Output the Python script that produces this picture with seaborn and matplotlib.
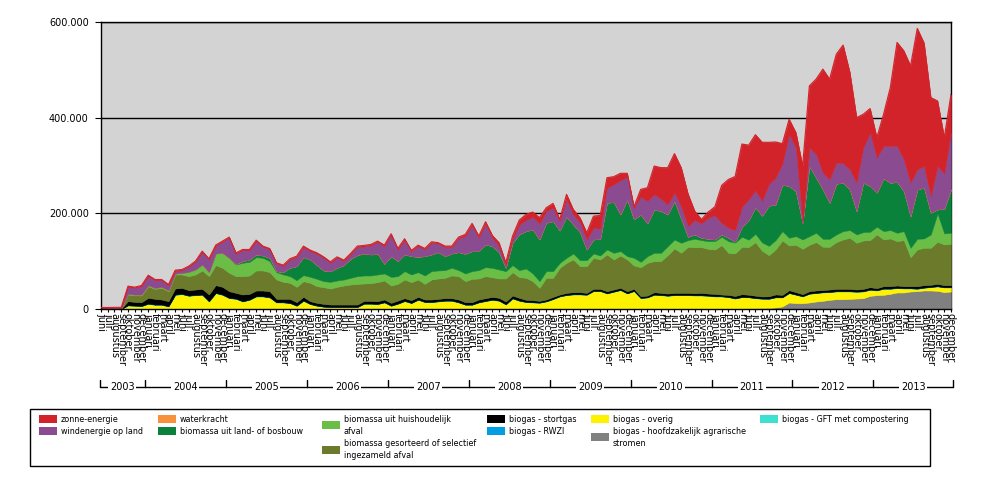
import numpy as np
import pandas as pd
import matplotlib
matplotlib.use("Agg")
import matplotlib.pyplot as plt
import matplotlib.transforms as mtransforms
from matplotlib.patches import Rectangle
from matplotlib.lines import Line2D
import seaborn as sns

sns.set_theme(style="white")
plt.rcParams['font.family'] = ['DejaVu Sans']

# ---------------- data (values in thousands, MWh) ----------------
maandnamen = ["januari", "februari", "maart", "april", "mei", "juni", "juli",
              "augustus", "september", "oktober", "november", "december"]
jaren = ["2003", "2004", "2005", "2006", "2007", "2008", "2009", "2010", "2011", "2012", "2013"]
maanden = maandnamen[5:] + maandnamen * 10          # juni 2003 .. december 2013
ytick_waarden = [0, 200000, 400000, 600000]
ytick_labels = ["0", "200.000", "400.000", "600.000"]

zonne_energie = [
    0.7, 0.7, 0.7, 0.7, 1.4, 1.4, 1.4,
    1.4, 1.4, 1.4, 1.4, 1.4, 1.4, 1.4, 1.4, 1.4, 1.4, 1.4, 1.4,
    1.4, 1.4, 1.4, 1.4, 2.1, 1.4, 1.4, 1.4, 2.1, 1.4, 2.1, 2.1,
    2.1, 2.1, 2.1, 2.1, 2.1, 2.1, 2.1, 2.1, 2.1, 2.1, 2.1, 2.1,
    2.1, 2.1, 2.1, 2.1, 2.1, 2.1, 2.1, 2.1, 2.1, 2.1, 2.8, 3.5,
    3.5, 3.5, 4.2, 4.9, 7.0, 4.9, 7.0, 9.1, 11.9, 9.8, 11.9, 7.0,
    9.1, 3.5, 10.5, 10.5, 9.1, 14.0, 24.4, 27.9, 20.9, 16.1, 14.7, 7.0,
    2.1, 15.4, 27.9, 59.3, 64.9, 76.8, 81.7, 80.3, 67.7, 18.8, 8.4, 11.9,
    18.1, 78.2, 101.2, 111.7, 131.2, 113.1, 116.6, 122.2, 87.3, 74.7, 41.9, 31.4,
    31.4, 117.3, 129.1, 157.1, 216.4, 209.4, 226.9, 247.1, 202.4, 136.1, 69.8, 50.3,
    41.9, 66.3, 122.2, 216.4, 226.9, 244.3, 294.6, 256.9, 205.9, 136.1, 74.7, 80.3]

windenergie = [
    1.0, 1.0, 1.2, 1.2, 14.7, 14.0, 17.5,
    19.5, 16.1, 14.0, 10.5, 5.6, 5.6, 10.5, 16.1, 26.5, 26.5, 16.1, 23.0,
    41.9, 21.6, 23.0, 19.5, 27.9, 18.1, 18.1, 16.1, 12.6, 17.5, 18.8, 20.9,
    17.5, 23.7, 26.5, 17.5, 20.9, 8.4, 9.1, 16.8, 14.7, 18.8, 24.4, 37.0,
    44.7, 24.4, 30.7, 9.8, 22.3, 14.0, 24.4, 17.5, 18.8, 13.3, 28.6, 37.0,
    54.4, 27.9, 43.3, 17.5, 12.6, 5.6, 7.0, 20.9, 23.0, 26.5, 33.5, 24.4,
    27.9, 19.5, 36.3, 20.9, 20.9, 20.9, 24.4, 20.9, 31.4, 37.0, 71.2, 47.5,
    24.4, 37.0, 46.8, 31.4, 25.8, 20.9, 17.5, 26.5, 22.3, 30.0, 30.0, 44.0,
    50.3, 24.4, 20.9, 24.4, 41.9, 44.0, 34.9, 31.4, 45.4, 55.8, 44.0, 108.2,
    90.7, 1.4, 38.4, 48.9, 34.9, 48.9, 44.0, 40.5, 41.9, 59.3, 73.3, 111.7,
    73.3, 67.7, 76.8, 75.4, 66.3, 69.8, 41.9, 45.4, 34.9, 90.7, 74.0, 118.7]

waterkracht = [
    0, 0, 0, 0, 0, 0, 0,
    0, 0, 0, 0, 0, 0, 0, 0, 0, 0, 0, 0,
    0, 0, 0, 0, 0, 0, 0, 0, 0, 0, 0, 0,
    0, 0, 0, 0, 0, 0, 0, 0, 0, 0, 0, 0,
    0, 0, 0, 0, 0, 0, 0, 0, 0, 0, 0, 0,
    0, 0, 0, 0, 0, 0, 0, 0, 0, 0, 0, 0,
    0, 0, 0, 0, 0, 0, 0, 0, 0, 0, 0, 0,
    0, 0, 0, 0, 0, 0, 0, 0, 0, 0, 0, 0,
    0, 0, 0, 0, 0, 0, 0, 0, 0, 0, 0, 0,
    0, 0, 0, 0, 0, 0, 0, 0, 0, 0, 0, 0,
    0, 0, 0, 0, 0, 0, 0, 0, 0, 0, 0, 0]

biomassa_land_bos = [
    0, 0, 0, 0, 0, 0, 0,
    0, 0, 0, 0, 0, 0, 0, 0, 0, 0, 0, 0,
    0, 1.4, 3.5, 4.9, 5.6, 4.9, 7.0, 2.1, 4.9, 17.5, 29.3, 37.7,
    36.3, 28.6, 22.3, 22.3, 26.5, 30.0, 39.8, 44.0, 46.1, 44.0, 43.3, 20.2,
    43.3, 31.4, 34.9, 38.4, 32.1, 40.5, 34.9, 38.4, 29.3, 30.0, 37.7, 41.2,
    41.9, 39.8, 47.5, 45.4, 36.3, 7.0, 46.8, 74.7, 78.2, 92.1, 87.3, 101.2,
    104.7, 67.7, 85.9, 60.7, 58.6, 22.3, 29.3, 34.9, 97.7, 106.1, 76.8, 118.7,
    80.3, 99.1, 68.4, 90.7, 87.3, 66.3, 80.3, 50.3, 7.0, 9.1, 4.9, 4.9,
    3.5, 4.9, 7.0, 2.1, 20.9, 40.5, 55.8, 55.8, 83.8, 74.7, 97.0, 108.2,
    94.2, 34.9, 146.6, 115.2, 103.3, 75.4, 106.1, 101.2, 85.2, 48.9, 103.3, 95.6,
    71.2, 110.3, 99.1, 106.1, 83.8, 66.3, 103.3, 106.1, 45.4, 8.4, 51.7, 90.7]

biomassa_huishoudelijk = [
    0, 0, 0, 0, 1.4, 1.4, 2.1,
    2.1, 2.1, 2.1, 2.1, 2.1, 3.5, 9.1, 10.5, 12.6, 8.4, 24.4, 31.4,
    31.4, 24.4, 27.9, 28.6, 27.9, 26.5, 23.0, 15.4, 15.4, 14.0, 14.0, 12.6,
    12.6, 15.4, 12.6, 14.0, 13.3, 12.6, 14.0, 16.1, 16.8, 16.1, 16.1, 14.7,
    18.1, 16.1, 17.5, 16.1, 15.4, 17.5, 17.5, 16.8, 16.1, 16.1, 12.6, 16.1,
    16.1, 17.5, 18.8, 19.5, 18.8, 15.4, 14.7, 14.7, 19.5, 16.1, 14.0, 14.0,
    14.0, 10.5, 10.5, 12.6, 12.6, 12.6, 9.1, 8.4, 10.5, 14.0, 9.1, 7.0,
    16.1, 11.2, 14.0, 17.5, 17.5, 18.8, 18.8, 20.9, 14.0, 17.5, 14.7, 16.1,
    17.5, 17.5, 24.4, 22.3, 20.9, 15.4, 17.5, 17.5, 19.5, 19.5, 19.5, 16.1,
    18.1, 19.5, 18.1, 19.5, 16.8, 16.8, 16.1, 17.5, 16.1, 17.5, 17.5, 17.5,
    16.1, 17.5, 17.5, 17.5, 18.8, 19.5, 22.3, 19.5, 27.9, 59.3, 23.0, 23.0]

biomassa_gesorteerd = [
    0.5, 0.5, 0.5, 0.6, 14.0, 14.0, 14.0,
    24.4, 20.9, 24.4, 20.9, 29.3, 27.9, 29.3, 31.4, 38.4, 38.4, 41.9, 39.8,
    38.4, 34.9, 38.4, 38.4, 41.9, 41.9, 39.8, 40.5, 35.6, 33.5, 32.1, 32.8,
    38.4, 34.9, 34.9, 33.5, 37.0, 39.8, 41.9, 43.3, 36.3, 37.0, 39.8, 39.8,
    36.3, 34.9, 39.1, 37.7, 36.3, 32.8, 41.9, 42.6, 42.6, 47.5, 48.9, 44.0,
    48.9, 44.0, 46.1, 41.2, 40.5, 48.2, 48.9, 43.3, 46.1, 39.8, 27.2, 45.4,
    39.8, 55.8, 62.8, 68.4, 54.4, 55.8, 64.9, 61.4, 76.8, 62.8, 67.7, 66.3,
    48.9, 60.7, 68.4, 64.9, 66.3, 80.3, 92.8, 83.8, 96.3, 96.3, 95.6, 93.5,
    92.8, 103.3, 87.9, 89.3, 99.1, 99.8, 111.7, 95.6, 85.9, 94.2, 113.8, 93.5,
    99.1, 94.9, 97.0, 101.2, 90.7, 89.3, 97.7, 103.3, 106.8, 97.7, 101.2, 98.4,
    112.4, 97.7, 99.8, 92.8, 96.3, 60.7, 76.8, 78.2, 77.5, 87.9, 85.2, 86.6]

biogas_stortgas = [
    1.0, 1.0, 1.0, 1.0, 8.4, 7.7, 7.7,
    11.9, 11.9, 10.5, 10.5, 12.6, 12.6, 11.2, 11.2, 11.9, 14.0, 16.1, 16.1,
    14.0, 11.9, 14.0, 11.9, 11.9, 11.9, 12.6, 7.0, 7.0, 8.4, 7.0, 7.7,
    5.6, 5.6, 5.6, 4.9, 4.9, 4.9, 4.9, 4.9, 5.6, 5.6, 5.6, 5.6,
    5.6, 6.3, 5.6, 5.6, 5.6, 4.9, 4.9, 4.9, 4.9, 4.9, 5.6, 4.9,
    4.9, 5.6, 5.6, 5.6, 5.6, 5.6, 5.6, 5.6, 4.2, 4.2, 3.5, 3.5,
    4.2, 3.5, 4.2, 4.2, 4.2, 3.5, 4.2, 4.2, 4.2, 4.2, 4.2, 4.2,
    4.2, 3.5, 3.5, 4.9, 4.2, 4.2, 4.2, 4.2, 4.2, 4.2, 4.9, 4.2,
    4.9, 3.5, 4.2, 4.9, 5.6, 4.9, 4.9, 4.2, 4.9, 5.6, 4.9, 5.6,
    4.9, 4.2, 4.9, 4.9, 4.2, 4.9, 4.9, 4.9, 4.9, 4.2, 4.9, 4.9,
    4.2, 4.9, 4.9, 4.9, 4.2, 4.2, 4.9, 4.9, 4.2, 4.9, 4.2, 4.2]

biogas_rwzi = [
    0, 0, 0, 0, 0.6, 0.6, 0.6,
    0.6, 0.6, 0.6, 0.6, 0.6, 0.6, 0.6, 0.6, 0.6, 0.6, 0.6, 0.6,
    0.6, 0.6, 0.6, 0.6, 0.6, 0.6, 0.6, 0.6, 0.6, 0.6, 0.6, 0.6,
    0.6, 0.6, 0.6, 0.6, 0.6, 0.6, 0.6, 0.6, 0.6, 0.6, 0.6, 0.6,
    0.6, 0.6, 0.6, 0.6, 0.6, 0.6, 0.6, 0.6, 0.6, 0.6, 0.6, 0.6,
    0.6, 0.6, 0.6, 0.6, 0.6, 0.6, 0.6, 0.6, 0.6, 0.6, 0.6, 0.6,
    0.6, 0.6, 0.6, 0.6, 0.6, 0.6, 0.6, 0.6, 0.6, 0.6, 0.6, 0.6,
    0.6, 0.6, 0.6, 0.6, 0.6, 0.6, 0.6, 0.6, 0.6, 0.6, 0.6, 0.6,
    0.6, 0.6, 0.6, 0.6, 0.6, 0.6, 0.6, 0.6, 0.6, 0.6, 0.6, 0.6,
    0.6, 0.6, 0.6, 0.6, 0.6, 0.6, 0.6, 0.6, 0.6, 0.6, 0.6, 0.6,
    0.6, 0.6, 0.6, 0.6, 0.6, 0.6, 0.6, 0.6, 0.6, 0.6, 0.6, 0.6]

biogas_overig = [
    0, 0, 0, 0, 7.0, 6.3, 5.6,
    10.5, 8.4, 8.4, 4.9, 29.3, 30.7, 27.2, 28.6, 29.3, 15.4, 32.8, 29.3,
    22.3, 20.9, 15.4, 18.8, 25.8, 25.8, 23.7, 13.3, 13.3, 11.9, 6.3, 16.8,
    9.8, 6.3, 4.2, 3.5, 3.5, 3.5, 3.5, 3.5, 10.5, 10.5, 9.8, 13.3,
    6.3, 10.5, 16.1, 11.9, 18.8, 14.0, 14.0, 15.4, 16.8, 16.8, 13.3, 8.4,
    8.4, 13.3, 16.1, 18.8, 16.8, 9.1, 21.6, 16.8, 14.0, 13.3, 12.6, 15.4,
    20.2, 25.8, 28.6, 30.0, 30.0, 29.3, 37.0, 37.0, 32.1, 35.6, 39.1, 32.1,
    37.0, 22.3, 23.7, 29.3, 28.6, 27.2, 28.6, 28.6, 28.6, 27.9, 27.9, 27.2,
    25.8, 25.8, 24.4, 20.9, 23.7, 23.0, 20.9, 19.5, 18.8, 20.9, 18.8, 19.5,
    17.5, 14.0, 18.1, 17.5, 17.5, 16.1, 16.1, 16.1, 15.4, 14.0, 14.0, 12.6,
    9.8, 12.6, 10.5, 9.1, 8.4, 6.3, 4.9, 5.6, 7.0, 9.1, 9.8, 8.4]

biogas_agrarisch = [
    0, 0, 0, 0, 0, 0, 0,
    0, 0, 0, 0, 0, 0, 0, 0, 0, 0, 0, 0,
    0, 0, 0, 0, 0, 0, 0, 0, 0, 0, 0, 0,
    0, 0, 0, 0, 0, 0, 0, 0, 0, 0, 0, 0,
    0, 0, 0, 0, 0, 0, 0, 0, 0, 0, 0, 0,
    0, 0, 0, 0, 0, 0, 0, 0, 0, 0, 0, 0,
    0, 0, 0, 0, 0, 0, 0, 0, 0, 0, 0, 0,
    0, 0, 0, 0, 0, 0, 0, 0, 0, 0, 0, 0,
    0, 0, 0, 0.5, 0.7, 1.0, 1.2, 1.5, 2.0, 3.0, 5.0, 13.3,
    11.9, 11.9, 13.3, 15.4, 16.8, 18.8, 20.2, 20.2, 20.9, 21.6, 22.3, 27.2,
    28.6, 29.3, 31.4, 34.2, 34.2, 36.3, 37.0, 38.4, 38.4, 37.7, 34.9, 36.3]

biogas_gft = [
    0, 0, 0, 0, 0.3, 0.3, 0.3,
    0.3, 0.3, 0.3, 0.3, 0.3, 0.3, 0.3, 0.3, 0.3, 0.3, 0.3, 0.3,
    0.3, 0.3, 0.3, 0.3, 0.3, 0.3, 0.3, 0.3, 0.3, 0.3, 0.3, 0.3,
    0.3, 0.3, 0.3, 0.3, 0.3, 0.3, 0.3, 0.3, 0.3, 0.3, 0.3, 0.3,
    0.3, 0.3, 0.3, 0.3, 0.3, 0.3, 0.3, 0.3, 0.3, 0.3, 0.3, 0.3,
    0.3, 0.3, 0.3, 0.3, 0.3, 0.3, 0.3, 0.3, 0.3, 0.3, 0.3, 0.3,
    0.3, 0.3, 0.3, 0.3, 0.3, 0.3, 0.3, 0.3, 0.3, 0.3, 0.3, 0.3,
    0.3, 0.3, 0.3, 0.3, 0.3, 0.3, 0.3, 0.3, 0.3, 0.3, 0.3, 0.3,
    0.3, 0.3, 0.3, 0.3, 0.3, 0.3, 0.3, 0.3, 0.3, 0.3, 0.3, 0.3,
    0.3, 0.3, 0.3, 0.3, 0.3, 0.3, 0.3, 0.3, 0.3, 0.3, 0.3, 0.3,
    0.3, 0.3, 0.3, 0.3, 0.3, 0.3, 0.3, 0.3, 0.3, 0.3, 0.3, 0.3]

EENHEID = 1000  # values above are in thousands

# legend order (as in the reference) with colours
reeksen = [
    ("zonne-energie", zonne_energie, "#D2232A"),
    ("windenergie op land", windenergie, "#8A4B90"),
    ("waterkracht", waterkracht, "#F7923A"),
    ("biomassa uit land- of bosbouw", biomassa_land_bos, "#0B823C"),
    ("biomassa uit huishoudelijk\nafval", biomassa_huishoudelijk, "#6ABD45"),
    ("biomassa gesorteerd of selectief\ningezameld afval", biomassa_gesorteerd, "#6B7B2B"),
    ("biogas - stortgas", biogas_stortgas, "#000000"),
    ("biogas - RWZI", biogas_rwzi, "#009FE3"),
    ("biogas - overig", biogas_overig, "#FFF200"),
    ("biogas - hoofdzakelijk agrarische\nstromen", biogas_agrarisch, "#808080"),
    ("biogas - GFT met compostering", biogas_gft, "#40E0D0"),
]

df = pd.DataFrame({naam: np.array(v, dtype=float) * EENHEID for naam, v, c in reeksen})
df["maand"] = np.arange(len(maanden))

# ---------------- figure ----------------
W, H = 986, 482
fig = plt.figure(figsize=(W / 100, H / 100), dpi=100)
fig.patch.set_facecolor("white")
PL, PR, PT, PB = 101, 951, 22, 309
ax = fig.add_axes([PL / W, 1 - PB / H, (PR - PL) / W, (PB - PT) / H])
ax.set_facecolor("#D3D3D3")

stapel = list(reversed(reeksen))          # bottom of stack = last legend entry
polys = ax.stackplot(df["maand"], *[df[n] for n, v, c in stapel],
                     colors=[c for n, v, c in stapel], zorder=2)
for p, (n, v, c) in zip(polys, stapel):
    p.set_edgecolor(c)
    p.set_linewidth(0.35)

totaal = df[[n for n, v, c in reeksen]].sum(axis=1)
sns.lineplot(x=df["maand"], y=totaal, color="#D2232A", linewidth=0.8, ax=ax,
             legend=False, zorder=3)
ax.set_xlabel("")
ax.set_ylabel("")

ax.set_xlim(0, len(maanden) - 1)
ax.set_ylim(0, 600000)
ax.set_yticks(ytick_waarden)
ax.set_yticklabels(ytick_labels)
ax.yaxis.grid(True, color="black", linewidth=1.0)
ax.xaxis.grid(False)
ax.set_axisbelow(True)

ax.set_xticks(np.arange(len(maanden)))
ax.set_xticklabels(maanden, rotation=270, fontsize=7, va="top", ha="center")
ax.tick_params(axis="x", direction="out", length=2.2, width=0.8, pad=1,
               colors="black", bottom=True)
ax.tick_params(axis="y", direction="out", length=4.3, width=0.8, pad=4.5,
               colors="black", labelsize=7, left=True)

for s in ["left", "bottom", "top", "right"]:
    ax.spines[s].set_color("black")
    ax.spines[s].set_linewidth(1.0)
ax.spines["right"].set_zorder(0.6)
ax.spines["top"].set_zorder(0.6)

# ---------------- year brackets ----------------
tr = mtransforms.blended_transform_factory(ax.transData, fig.transFigure)
jan_idx = [i for i, m in enumerate(maanden) if m == "januari"]
randen = [-0.15] + [i - 0.5 for i in jan_idx] + [len(maanden) - 1 + 0.3]
y_lijn = 1 - 387 / H
y_top = 1 - 379.5 / H
for r in randen:
    fig.add_artist(Line2D([r, r], [y_top, y_lijn], transform=tr, color="black",
                          linewidth=1.0, clip_on=False))
for j, jaar in enumerate(jaren):
    a, b = randen[j], randen[j + 1]
    fig.add_artist(Line2D([a, b], [y_lijn, y_lijn], transform=tr, color="black",
                          linewidth=1.0, clip_on=False))
    fig.text((a + b) / 2, y_lijn, jaar, transform=tr, ha="center", va="center",
             fontsize=7, color="black",
             bbox=dict(facecolor="white", edgecolor="none", pad=1.2))

# ---------------- legend (manual layout) ----------------
def fx(px):
    return px / W


def fy(py):
    return 1 - py / H


fig.add_artist(Rectangle((fx(30), fy(466)), (930 - 30) / W, (466 - 409) / H,
                         transform=fig.transFigure, fill=False,
                         edgecolor="black", linewidth=1.0))

kolommen = [(39, [0, 1]), (158, [2, 3]), (322, [4, 5]),
            (487, [6, 7]), (591, [8, 9]), (760, [10])]
regel = 12.2
for xs, idxs in kolommen:
    ytop = 419
    for k in idxs:
        naam, v, kleur = reeksen[k]
        regels = naam.split("\n")
        ymid = ytop + (len(regels) - 1) * regel / 2
        fig.add_artist(Rectangle((fx(xs), fy(ymid + 4)), 18 / W, 8 / H,
                                 transform=fig.transFigure, facecolor=kleur,
                                 edgecolor="none"))
        for li, t in enumerate(regels):
            fig.text(fx(xs + 22), fy(ytop + li * regel), t, ha="left",
                     va="center", fontsize=5.8, color="black")
        ytop += len(regels) * regel

fig.savefig("out.png", dpi=100, facecolor="white")
